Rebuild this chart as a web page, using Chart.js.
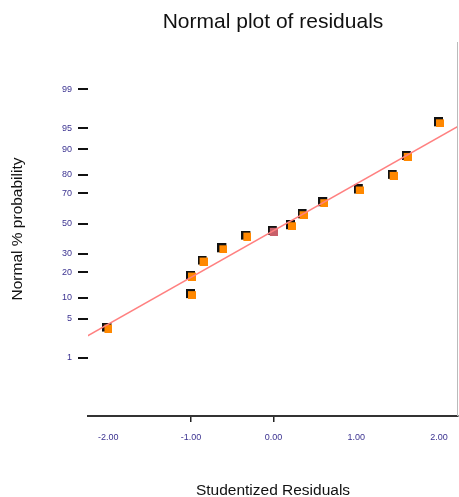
<!DOCTYPE html>
<html>
<head>
<meta charset="utf-8">
<script src="https://cdn.jsdelivr.net/npm/chart.js@4"></script>
<style>
  html, body { margin: 0; padding: 0; background: #fff; }
  #wrap { width: 459px; height: 497px; }
</style>
</head>
<body>
<div id="wrap"><canvas id="myChart"></canvas></div>
<script>
// studentized residuals (x) and normal % probability (y)
const residuals = [-2.01, -1.00, -1.00, -0.86, -0.62, -0.33, -0.01, 0.21, 0.35, 0.60, 1.03, 1.44, 1.61, 2.00];
const probability = [3.6, 18.4, 11.1, 26.1, 33.4, 41.7, 45.0, 48.8, 56.4, 64.4, 72.2, 80.0, 87.9, 96.0];
const highlighted = 6; // the one reddish point near zero

// reference line ends
const lineX = [-2.25, 2.25];
const lineP = [2.6, 95.5];

const xTicks = [-2, -1, 0, 1, 2];
const xTickLabels = ["-2.00", "-1.00", "0.00", "1.00", "2.00"];
const yTickValues = [1, 5, 10, 20, 30, 50, 70, 80, 90, 95, 99];
const yTickLabels = ["1", "5", "10", "20", "30", "50", "70", "80", "90", "95", "99"];

// inverse normal cdf (Acklam), p in 0..1
function probit(p) {
  const a = [-3.969683028665376e+01, 2.209460984245205e+02, -2.759285104469687e+02, 1.383577518672690e+02, -3.066479806614716e+01, 2.506628277459239e+00];
  const b = [-5.447609879822406e+01, 1.615858368580409e+02, -1.556989798598866e+02, 6.680131188771972e+01, -1.328068155288572e+01];
  const c = [-7.784894002430293e-03, -3.223964580411365e-01, -2.400758277161838e+00, -2.549732539343734e+00, 4.374664141464968e+00, 2.938163982698783e+00];
  const d = [7.784695709041462e-03, 3.224671290700398e-01, 2.445134137142996e+00, 3.754408661907416e+00];
  const lo = 0.02425, hi = 1 - lo;
  let q, r;
  if (p < lo) {
    q = Math.sqrt(-2 * Math.log(p));
    return (((((c[0]*q+c[1])*q+c[2])*q+c[3])*q+c[4])*q+c[5]) / ((((d[0]*q+d[1])*q+d[2])*q+d[3])*q+1);
  }
  if (p > hi) {
    q = Math.sqrt(-2 * Math.log(1 - p));
    return -(((((c[0]*q+c[1])*q+c[2])*q+c[3])*q+c[4])*q+c[5]) / ((((d[0]*q+d[1])*q+d[2])*q+d[3])*q+1);
  }
  q = p - 0.5;
  r = q * q;
  return (((((a[0]*r+a[1])*r+a[2])*r+a[3])*r+a[4])*r+a[5])*q / (((((b[0]*r+b[1])*r+b[2])*r+b[3])*r+b[4])*r+1);
}
const z = pct => probit(pct / 100);

// marker images
function makeMarker(fill) {
  const c = document.createElement("canvas");
  c.width = 10; c.height = 10;
  const g = c.getContext("2d");
  g.fillStyle = "#111";
  g.fillRect(0, 0, 9, 9);
  g.fillStyle = fill;
  g.fillRect(2, 2, 8, 8);
  return c;
}
const orangeMark = makeMarker("#ff8800");
const redMark = makeMarker("#c8606a");

const points = residuals.map((r, i) => ({ x: r, y: z(probability[i]) }));
const fitLine = lineX.map((x, i) => ({ x: x, y: z(lineP[i]) }));

const font = "Arial, 'Liberation Sans', sans-serif";
const tickFont = { family: font, size: 9 };
const tickColor = "#3b3290";

// thin grey frame line on the right of the plot
const rightEdge = {
  id: "rightEdge",
  afterDraw(chart) {
    const a = chart.chartArea;
    const g = chart.ctx;
    g.save();
    g.strokeStyle = "#bbb";
    g.lineWidth = 1;
    g.beginPath();
    g.moveTo(a.right - 0.5, a.top);
    g.lineTo(a.right - 0.5, a.bottom);
    g.stroke();
    g.restore();
  },
};

new Chart("myChart", {
  type: "scatter",
  data: {
    datasets: [
      {
        type: "line",
        data: fitLine,
        borderColor: "#ff8080",
        borderWidth: 1.5,
        pointRadius: 0,
        pointHoverRadius: 0,
        fill: false,
      },
      {
        data: points,
        pointStyle: ctx => ctx.dataIndex === highlighted ? redMark : orangeMark,
        pointRadius: 1,
        pointHoverRadius: 1,
        borderWidth: 0,
      },
    ],
  },
  plugins: [rightEdge],
  options: {
    responsive: true,
    maintainAspectRatio: false,
    animation: false,
    layout: { padding: { left: 8, right: 0, top: 0, bottom: 0 } },
    plugins: {
      legend: { display: false },
      tooltip: { enabled: false },
    },
    scales: {
      x: {
        type: "linear",
        min: -2.245,
        max: 2.23,
        afterBuildTicks: s => { s.ticks = xTicks.map(v => ({ value: v })); },
        ticks: {
          callback: v => xTickLabels[xTicks.indexOf(v)],
          font: tickFont,
          color: tickColor,
          padding: 10,
          maxRotation: 0,
        },
        grid: {
          drawOnChartArea: false,
          tickLength: 6,
          color: ctx => (ctx.tick && (ctx.tick.value === -1 || ctx.tick.value === 0)) ? "#222" : "rgba(0,0,0,0)",
          lineWidth: 1.5,
        },
        border: { display: true, color: "#333", width: 2 },
        title: {
          display: true,
          text: "Studentized Residuals",
          color: "#111",
          font: { family: font, size: 15.5 },
          padding: { top: 0, bottom: -3 },
        },
        afterFit: s => { s.height = 81; s.paddingLeft = 0; s.paddingRight = 0; },
      },
      // top axis only carries the chart title, centred over the plot
      top: {
        type: "linear",
        position: "top",
        min: -2.245,
        max: 2.23,
        ticks: { display: false },
        grid: { display: false },
        border: { display: false },
        title: {
          display: true,
          text: "Normal plot of residuals",
          color: "#111",
          font: { family: font, size: 21 },
          padding: { top: 10, bottom: 0 },
        },
        afterFit: s => { s.height = 42; s.paddingLeft = 0; s.paddingRight = 0; },
      },
      y: {
        type: "linear",
        min: -3.33,
        max: 3.14,
        afterBuildTicks: s => { s.ticks = yTickValues.map(v => ({ value: z(v) })); },
        ticks: {
          callback: (v, i) => yTickLabels[i],
          font: tickFont,
          color: tickColor,
          padding: 6,
        },
        grid: {
          drawOnChartArea: false,
          tickLength: 10,
          color: "#111",
          lineWidth: 2,
        },
        border: { display: false },
        title: {
          display: true,
          text: "Normal % probability",
          color: "#111",
          font: { family: font, size: 15.5 },
          padding: { top: 0, bottom: 0 },
        },
        afterFit: s => { s.width = 80; },
      },
    },
  },
});
</script>
</body>
</html>
